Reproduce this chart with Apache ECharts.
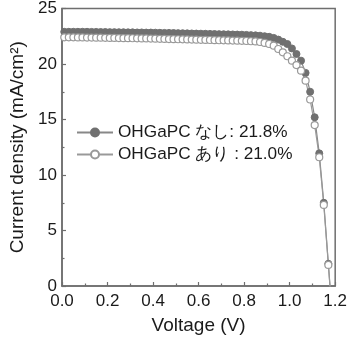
<!DOCTYPE html>
<html><head><meta charset="utf-8">
<script src="https://cdn.jsdelivr.net/npm/echarts@6/dist/echarts.min.js"></script>
<style>html,body{margin:0;padding:0;background:#fff}#c{width:350px;height:340px}</style>
</head><body><div id="c"></div>
<script>
var voltage = [0.01,0.03,0.05,0.07,0.09,0.11,0.13,0.15,0.17,0.19,0.21,0.23,0.25,0.27,0.29,0.31,0.33,0.35,0.37,0.39,0.41,0.43,0.45,0.47,0.49,0.51,0.53,0.55,0.57,0.59,0.61,0.63,0.65,0.67,0.69,0.71,0.73,0.75,0.77,0.79,0.81,0.83,0.85,0.87,0.89,0.91,0.93,0.95,0.97,0.99,1.01,1.03,1.05,1.07,1.09,1.11,1.13,1.15,1.17,1.19];
var jNashi = [22.9,22.9,22.9,22.9,22.9,22.9,22.89,22.89,22.88,22.88,22.87,22.87,22.86,22.86,22.85,22.85,22.84,22.84,22.83,22.83,22.82,22.81,22.8,22.8,22.79,22.78,22.77,22.76,22.75,22.74,22.73,22.72,22.71,22.7,22.69,22.68,22.67,22.66,22.65,22.64,22.62,22.6,22.58,22.55,22.5,22.45,22.35,22.2,22.0,21.8,21.4,20.9,20.3,19.2,17.5,15.2,11.95,7.5,2.0,-3.5];
var jAri = [22.4,22.4,22.4,22.39,22.39,22.38,22.38,22.37,22.37,22.36,22.35,22.35,22.34,22.33,22.33,22.32,22.31,22.3,22.3,22.29,22.28,22.27,22.26,22.25,22.24,22.23,22.22,22.21,22.2,22.19,22.18,22.17,22.16,22.15,22.14,22.13,22.12,22.11,22.1,22.09,22.07,22.05,22.03,21.98,21.9,21.8,21.65,21.35,21.05,20.7,20.3,19.9,19.4,18.5,16.8,14.5,11.6,7.3,1.9,-3.5];
var yTicks = [0,5,10,15,20,25];
var xTicks = [0.0,0.2,0.4,0.6,0.8,1.0,1.2];
var names = ['OHGaPC なし: 21.8%', 'OHGaPC あり : 21.0%'];

function pairs(ys){ return voltage.map(function(v,i){ return [v, ys[i]]; }); }
var axisCol = '#6e6e6e';
var font = 'Liberation Sans, Arial, sans-serif';
var chart = echarts.init(document.getElementById('c'), null, {renderer:'canvas'});
chart.setOption({
  backgroundColor:'#fff',
  animation:false,
  grid:{left:56,right:13,top:6,bottom:53,show:true,borderColor:axisCol,borderWidth:1.5,containLabel:false},
  legend:{
    orient:'vertical', left:71, top:119, itemGap:5, itemWidth:36, itemHeight:10,
    textStyle:{fontSize:17.2,color:'#1a1a1a',fontFamily:font,padding:[0,0,0,0]},
    data:names
  },
  xAxis:{
    type:'value', min:xTicks[0], max:xTicks[xTicks.length-1], interval:0.2,
    name:'Voltage (V)', nameLocation:'middle', nameGap:30,
    nameTextStyle:{fontSize:19,color:'#1a1a1a',fontFamily:font},
    axisLine:{show:true,lineStyle:{color:axisCol,width:1.5}},
    axisTick:{show:true,inside:true,length:4,lineStyle:{color:axisCol,width:1.2}},
    minorTick:{show:true,splitNumber:2,length:2.5,lineStyle:{color:axisCol,width:1.2}},
    splitLine:{show:false},
    axisLabel:{fontSize:17,color:'#1a1a1a',fontFamily:font,margin:7,formatter:function(v){return v.toFixed(1);}}
  },
  yAxis:{
    type:'value', min:yTicks[0], max:yTicks[yTicks.length-1], interval:5,
    name:'Current density (mA/cm²)', nameLocation:'middle', nameGap:35,
    nameTextStyle:{fontSize:19,color:'#1a1a1a',fontFamily:font},
    axisLine:{show:true,lineStyle:{color:axisCol,width:1.5}},
    axisTick:{show:true,inside:true,length:4,lineStyle:{color:axisCol,width:1.2}},
    minorTick:{show:true,splitNumber:2,length:2.5,lineStyle:{color:axisCol,width:1.2}},
    splitLine:{show:false},
    axisLabel:{fontSize:17,color:'#1a1a1a',fontFamily:font,margin:5}
  },
  series:[
    {name:names[0], type:'line', data:pairs(jNashi), clip:true,
     symbol:'circle', symbolSize:7, showAllSymbol:true,
     lineStyle:{color:'#888',width:1.2},
     itemStyle:{color:'#707070',borderColor:'#707070',borderWidth:1}},
    {name:names[1], type:'line', data:pairs(jAri), clip:true,
     symbol:'circle', symbolSize:7, showAllSymbol:true,
     lineStyle:{color:'#999',width:1.2},
     itemStyle:{color:'#fff',borderColor:'#999',borderWidth:1.2}}
  ]
});
</script></body></html>
